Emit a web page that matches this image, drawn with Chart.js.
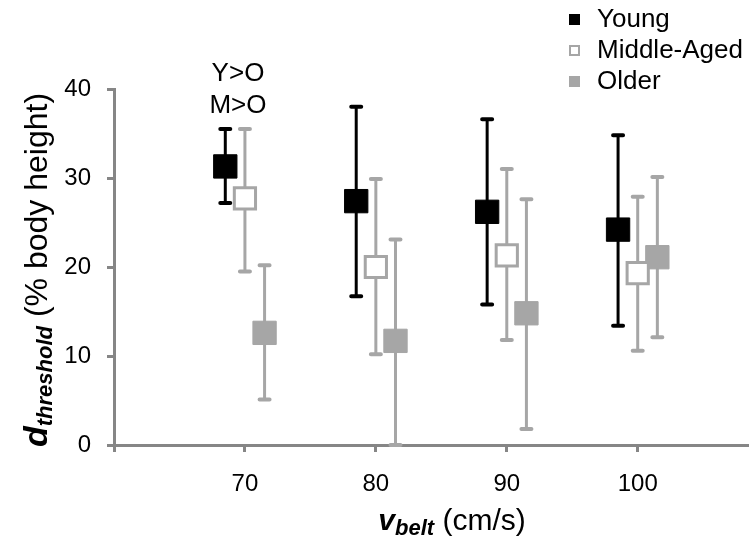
<!DOCTYPE html>
<html>
<head>
<meta charset="utf-8">
<title>d threshold vs belt speed</title>
<script src="https://cdn.jsdelivr.net/npm/chart.js"></script>
<style>
    body {
        margin: 0;
        background: #fff;
        font-family: "Liberation Sans", Arial, sans-serif;
        color: #000;
    }
    .wrap {
        position: relative;
        width: 749px;
        height: 538px;
        overflow: hidden;
    }
    .legend {
        position: absolute;
        left: 569px;
        top: 3px;
        font-size: 26px;
    }
    .legend .row {
        height: 31px;
        line-height: 31px;
        white-space: nowrap;
    }
    .legend .box {
        display: inline-block;
        width: 11px;
        height: 11px;
        box-sizing: border-box;
        margin-right: 17px;
        vertical-align: 2px;
    }
    .note {
        position: absolute;
        left: 238px;
        top: 56px;
        transform: translateX(-50%);
        font-size: 26px;
        line-height: 32px;
        text-align: center;
    }
    .xtitle {
        position: absolute;
        left: 452px;
        top: 502px;
        transform: translateX(-50%);
        font-size: 30px;
        line-height: 36px;
        white-space: nowrap;
    }
    /* starts at the bottom (y=447) and reads upward */
    .ytitle {
        position: absolute;
        left: 15px;
        top: 447px;
        transform-origin: 0 0;
        transform: rotate(-90deg);
        font-size: 32px;
        line-height: 40px;
        white-space: nowrap;
    }
    .bi { font-weight: bold; font-style: italic; }
    .sub { font-size: 22px; vertical-align: -5px; }
</style>
</head>
<body>
<div class="wrap">
    <canvas id="chart" width="749" height="538"></canvas>

    <div class="legend">
        <div class="row"><span class="box" style="background:#000"></span>Young</div>
        <div class="row"><span class="box" style="background:#fff;border:2px solid #a6a6a6"></span>Middle-Aged</div>
        <div class="row"><span class="box" style="background:#a6a6a6"></span>Older</div>
    </div>

    <div class="note">Y&gt;O<br>M&gt;O</div>

    <div class="xtitle"><span class="bi">v</span><span class="bi sub">belt</span> (cm/s)</div>
    <div class="ytitle"><span class="bi" style="font-size:34px">d</span><span class="bi sub">threshold</span> (% body height)</div>
</div>

<script>
    // belt speeds (cm/s) and group offsets so the markers sit side by side
    const speeds = [70, 80, 90, 100];
    const groupOffsets = [-1.5, 0, 1.5];

    const youngMean = [31.3, 27.4, 26.2, 24.2];
    const youngHigh = [35.5, 38.0, 36.6, 34.8];
    const youngLow = [27.2, 16.7, 15.8, 13.4];

    const middleMean = [27.7, 20.0, 21.3, 19.3];
    const middleHigh = [35.5, 29.9, 31.0, 27.9];
    const middleLow = [19.5, 10.2, 11.8, 10.6];

    const olderMean = [12.6, 11.7, 14.8, 21.1];
    const olderHigh = [20.2, 23.1, 27.6, 30.1];
    const olderLow = [5.1, 0.0, 1.8, 12.1];

    const xTicks = [60, 70, 80, 90, 100];
    const yTicks = [0, 10, 20, 30, 40];

    const gray = '#a6a6a6';
    const axisGray = '#868686';

    function points(mean, high, low, offset) {
        return speeds.map(function (s, i) {
            return { x: s + offset, y: mean[i], high: high[i], low: low[i] };
        });
    }

    // draws whiskers from each point's low to high value
    const errorBars = {
        id: 'errorBars',
        beforeDatasetsDraw(chart) {
            const ctx = chart.ctx;
            const xs = chart.scales.x;
            const ys = chart.scales.y;
            chart.data.datasets.forEach(function (ds) {
                ctx.save();
                ctx.strokeStyle = ds.whiskerColor;
                ds.data.forEach(function (p) {
                    const px = xs.getPixelForValue(p.x);
                    const top = ys.getPixelForValue(p.high);
                    const bot = ys.getPixelForValue(p.low);
                    ctx.lineWidth = 3;
                    ctx.beginPath();
                    ctx.moveTo(px, top);
                    ctx.lineTo(px, bot);
                    ctx.stroke();
                    ctx.lineWidth = 4;
                    ctx.lineCap = 'round';
                    ctx.beginPath();
                    ctx.moveTo(px - 5, top);
                    ctx.lineTo(px + 5, top);
                    ctx.moveTo(px - 5, bot);
                    ctx.lineTo(px + 5, bot);
                    ctx.stroke();
                    ctx.lineCap = 'butt';
                });
                ctx.restore();
            });
        }
    };

    Chart.defaults.font.family = '"Liberation Sans", Arial, sans-serif';
    Chart.defaults.color = '#000';

    new Chart(document.getElementById('chart'), {
        type: 'scatter',
        data: {
            datasets: [
                {
                    label: 'Young',
                    data: points(youngMean, youngHigh, youngLow, groupOffsets[0]),
                    pointStyle: 'rect',
                    pointRadius: 16.5,
                    backgroundColor: '#000',
                    borderColor: '#000',
                    borderWidth: 1,
                    whiskerColor: '#000'
                },
                {
                    label: 'Middle-Aged',
                    data: points(middleMean, middleHigh, middleLow, groupOffsets[1]),
                    pointStyle: 'rect',
                    pointRadius: 15,
                    backgroundColor: '#fff',
                    borderColor: gray,
                    borderWidth: 3,
                    whiskerColor: gray
                },
                {
                    label: 'Older',
                    data: points(olderMean, olderHigh, olderLow, groupOffsets[2]),
                    pointStyle: 'rect',
                    pointRadius: 16.5,
                    backgroundColor: gray,
                    borderColor: gray,
                    borderWidth: 1,
                    whiskerColor: gray
                }
            ]
        },
        options: {
            responsive: false,
            animation: false,
            events: [],
            clip: false,
            layout: {
                autoPadding: false,
                padding: { top: 89, right: 0, left: 0, bottom: 0 }
            },
            plugins: {
                legend: { display: false },
                tooltip: { enabled: false }
            },
            scales: {
                x: {
                    type: 'linear',
                    min: 60,
                    max: 108.5,
                    afterBuildTicks: function (s) { s.ticks = xTicks.map(function (v) { return { value: v }; }); },
                    afterFit: function (s) {
                        s.height = 93;
                        s.paddingLeft = 0;
                        s.paddingRight = 0;
                    },
                    ticks: {
                        font: { size: 24 },
                        padding: 18,
                        callback: function (v) { return v === 60 ? '' : v; }
                    },
                    grid: { drawOnChartArea: false, drawTicks: true, tickLength: 7, color: axisGray, lineWidth: 3 },
                    border: { color: axisGray, width: 3 }
                },
                y: {
                    min: 0,
                    max: 40,
                    afterBuildTicks: function (s) { s.ticks = yTicks.map(function (v) { return { value: v }; }); },
                    afterFit: function (s) { s.width = 114; },
                    ticks: { font: { size: 24 }, padding: 16 },
                    grid: { drawOnChartArea: false, drawTicks: true, tickLength: 7, color: axisGray, lineWidth: 3 },
                    border: { color: axisGray, width: 3 }
                }
            }
        },
        plugins: [errorBars]
    });
</script>
</body>
</html>
